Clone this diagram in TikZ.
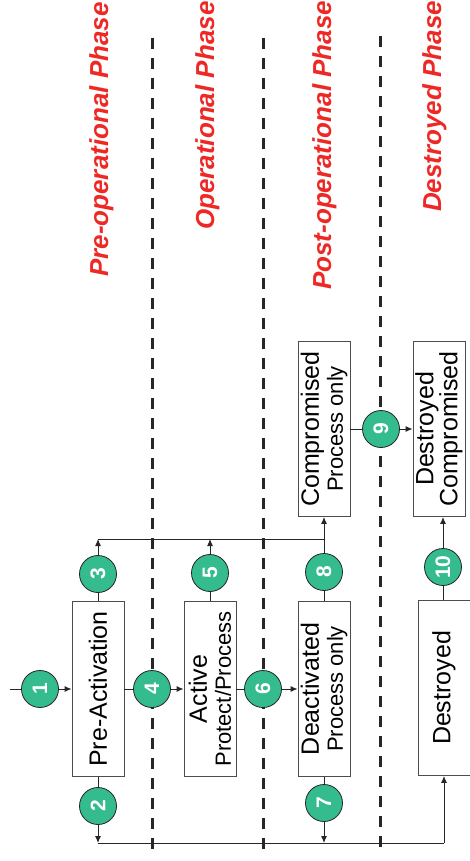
\documentclass[tikz,border=0pt]{standalone}
\usepackage{fontspec}
\setmainfont{Liberation Sans}
\usetikzlibrary{arrows.meta}
\definecolor{stepgreen}{RGB}{52,187,142}
\definecolor{phasered}{RGB}{238,40,36}
\newcommand{\smallline}[1]{{\fontsize{22}{24}\selectfont #1}}
\tikzset{
  stepnum/.style={circle, draw=black!85, line width=0.8pt, fill=stepgreen,
    minimum size=37pt, inner sep=0pt, text=white,
    font=\fontsize{21}{21}\selectfont\bfseries, rotate=90},
  statebox/.style={draw=black!70, line width=0.8pt, fill=white,
    minimum width=175pt, minimum height=52pt, inner sep=0pt, align=center,
    font=\fontsize{25}{24}\selectfont, rotate=90},
  phase/.style={text=phasered, font=\fontsize{26}{26}\selectfont\bfseries\itshape,
    rotate=90, anchor=base west, inner sep=0pt},
  phaseline/.style={line width=3pt, black!85, dash pattern=on 11pt off 9pt},
  link/.style={line width=1pt, black!85},
}
\begin{document}
\begin{tikzpicture}[x=1pt, y=-1pt, >={Latex[length=7pt,width=6pt]}]
      \useasboundingbox (0,0) rectangle (470,861);
      \clip (0,0) rectangle (470,861);
      % phase borders and names
      \draw[phaseline] (152,38) -- (152,852);
      \draw[phaseline] (263,38) -- (263,852);
      \draw[phaseline] (380,36) -- (380,852);
      \node[phase] (ph1) at (108,277) {Pre-operational Phase};
      \node[phase] (ph2) at (214,230) {Operational Phase};
      \node[phase] (ph3) at (331,290) {Post-operational Phase};
      \node[phase] (ph4) at (441,212) {Destroyed Phase};
      % states
      \node[statebox] (pre) at (98,689) {Pre-Activation};
      \node[statebox] (act) at (210,689) {Active\\\smallline{Protect/Process}};
      \node[statebox] (deact) at (324,689) {Deactivated\\\smallline{Process only}};
      \node[statebox] (dest) at (444,688) {Destroyed};
      \node[statebox] (comp) at (324,429) {Compromised\\\smallline{Process only}};
      \node[statebox] (dcomp) at (439,429) {Destroyed\\Compromised};
      % transitions
      \draw
        (40,689) node[stepnum] (1){1}
        (98,806) node[stepnum] (2){2}
        (98,574) node[stepnum] (3){3}
        (152,689) node[stepnum] (4){4}
        (210,573) node[stepnum] (5){5}
        (263,689) node[stepnum] (6){6}
        (324,803) node[stepnum] (7){7}
        (324,572) node[stepnum] (8){8}
        (381,429) node[stepnum] (9){9}
        (443,567) node[stepnum] (10){10};
      \coordinate (in) at (10,689);
      \coordinate (b2) at (98,843);
      \coordinate (b7) at (324,843);
      \coordinate (b10) at (444,843);
      \coordinate (t3) at (98,539);
      \coordinate (t5) at (210,539);
      \coordinate (t8) at (324,539);
      \begin{scope}[link]
        \draw (in) to (1);
        \draw[->] (1) to (pre);
        \draw (pre) to (2);
        \draw[->] (2) to (b2);
        \draw (pre) to (3);
        \draw[->] (3) to (t3);
        \draw (pre) to (4);
        \draw[->] (4) to (act);
        \draw (act) to (5);
        \draw[->] (5) to (t5);
        \draw (act) to (6);
        \draw[->] (6) to (deact);
        \draw (deact) to (7);
        \draw[->] (7) to (b7);
        \draw (deact) to (8);
        \draw[->] (8) to (comp);
        \draw (t3) to (t8);
        \draw (comp) to (9);
        \draw[->] (9) to (dcomp);
        \draw (dest.east -| 10) to (10);
        \draw[->] (10) to (10 |- dcomp.west);
        \draw (b2) to (b10);
        \draw[->] (b10) to (dest);
      \end{scope}
    \end{tikzpicture}
\end{document}
